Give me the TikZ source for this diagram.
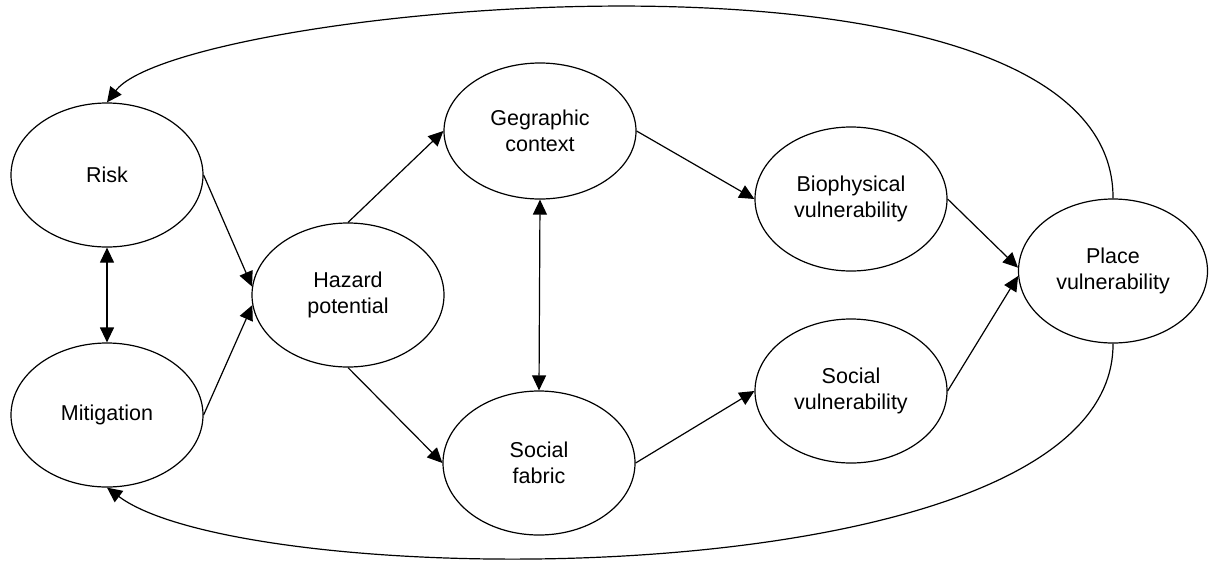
\documentclass[tikz,border=0pt]{standalone}
\usepackage{fontspec}
\setmainfont{Liberation Sans}
\usetikzlibrary{shapes.geometric,arrows.meta}
\begin{document}
\begin{tikzpicture}[x=1pt,y=-1pt,
    bubble/.style={draw,ellipse,line width=1.2pt,minimum width=192pt,minimum height=144pt,
      inner sep=0pt,align=center,font=\fontsize{21.5}{26.5}\selectfont},
    arr/.style={-{Triangle[length=15pt,width=14pt]},line width=1.2pt},
    darr/.style={{Triangle[length=15pt,width=14pt]}-{Triangle[length=15pt,width=14pt]},line width=1.2pt}]
    \useasboundingbox (0,0) rectangle (1209,563); % frame of the page
    \node[bubble] (risk) at (107,175) {Risk}; % risk
    \node[bubble] (mitig) at (107,415) {Mitigation}; % mitigation
    \node[bubble] (hazard) at (348,295) {Hazard\\potential}; % hazard potential
    \node[bubble,minimum height=136pt] (geo) at (540,131) {Gegraphic\\context}; % geographic context
    \node[bubble] (fabric) at (539,463) {Social\\fabric}; % social fabric
    \node[bubble] (biovul) at (851,199) {Biophysical\\vulnerability}; % biophysical vulnerability
    \node[bubble] (socvul) at (851,391) {Social\\vulnerability}; % social vulnerability
    \node[bubble,minimum width=189pt] (place) at (1113,271) {Place\\vulnerability}; % place vulnerability
    \draw[darr] (risk.south) -- (mitig.north); % risk <-> mitigation
    \draw[arr] (risk.east) -- (hazard.175); % risk -> hazard
    \draw[arr] (mitig.east) -- (hazard.186); % mitigation -> hazard
    \draw[arr] (hazard.north) -- (geo.west); % hazard -> context
    \draw[arr] (hazard.south) -- (fabric.west); % hazard -> fabric
    \draw[darr] (geo.south) -- (fabric.north); % context <-> fabric
    \draw[arr] (geo.east) -- (biovul.west); % context -> biophysical
    \draw[arr] (fabric.east) -- (socvul.west); % fabric -> social
    \draw[arr] (biovul.east) -- (place.178); % biophysical -> place
    \draw[arr] (socvul.east) -- (place.183); % social -> place
    \draw[arr] (place.north) .. controls (1115,-85) and (180,5) .. (risk.north); % feedback to risk
    \draw[arr] (place.south) .. controls (1115,600) and (250,595) .. (mitig.south); % feedback to mitigation
\end{tikzpicture}
\end{document}
